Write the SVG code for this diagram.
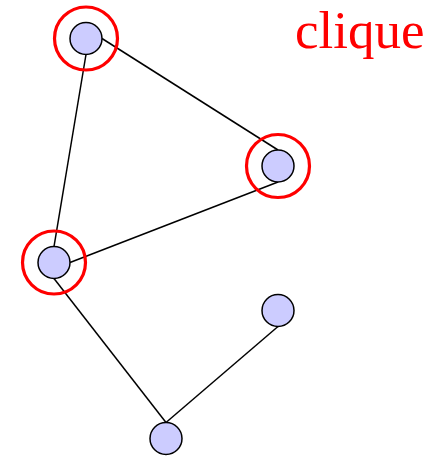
<svg xmlns="http://www.w3.org/2000/svg" width="443" height="456" viewBox="0 0 443 456">
<style>
.edge{stroke:#000;stroke-width:1.5;fill:none}
.node{fill:#ccccff;stroke:#000;stroke-width:1.5}
.ring{fill:none;stroke:#ff0000;stroke-width:3.2}
.label{font-family:"Liberation Serif","Times New Roman",serif;font-size:53px;fill:#ff0000}
</style>
<rect width="443" height="456" fill="#fff"/>
<g id="connectors">
<line class="edge" x1="102" y1="38.5" x2="278" y2="150"/>
<line class="edge" x1="86" y1="54.5" x2="54" y2="246.5"/>
<line class="edge" x1="278" y1="182" x2="70" y2="262.5"/>
<line class="edge" x1="54" y1="278.5" x2="166" y2="422.5"/>
<line class="edge" x1="278" y1="326.5" x2="166" y2="422.5"/>
</g>
<g id="nodeA"><circle class="node" cx="86" cy="38.5" r="16"/><circle class="ring" cx="86" cy="38.5" r="31.5"/></g>
<g id="nodeB"><circle class="node" cx="278" cy="166" r="16"/><circle class="ring" cx="278" cy="166" r="31.5"/></g>
<g id="nodeC"><circle class="node" cx="54" cy="262.5" r="16"/><circle class="ring" cx="54" cy="262.5" r="31.5"/></g>
<g id="nodeD"><circle class="node" cx="278" cy="310.5" r="16"/></g>
<g id="nodeE"><circle class="node" cx="166" cy="438.5" r="16"/></g>
<g id="title"><text class="label" x="295" y="48">clique</text></g>
</svg>
